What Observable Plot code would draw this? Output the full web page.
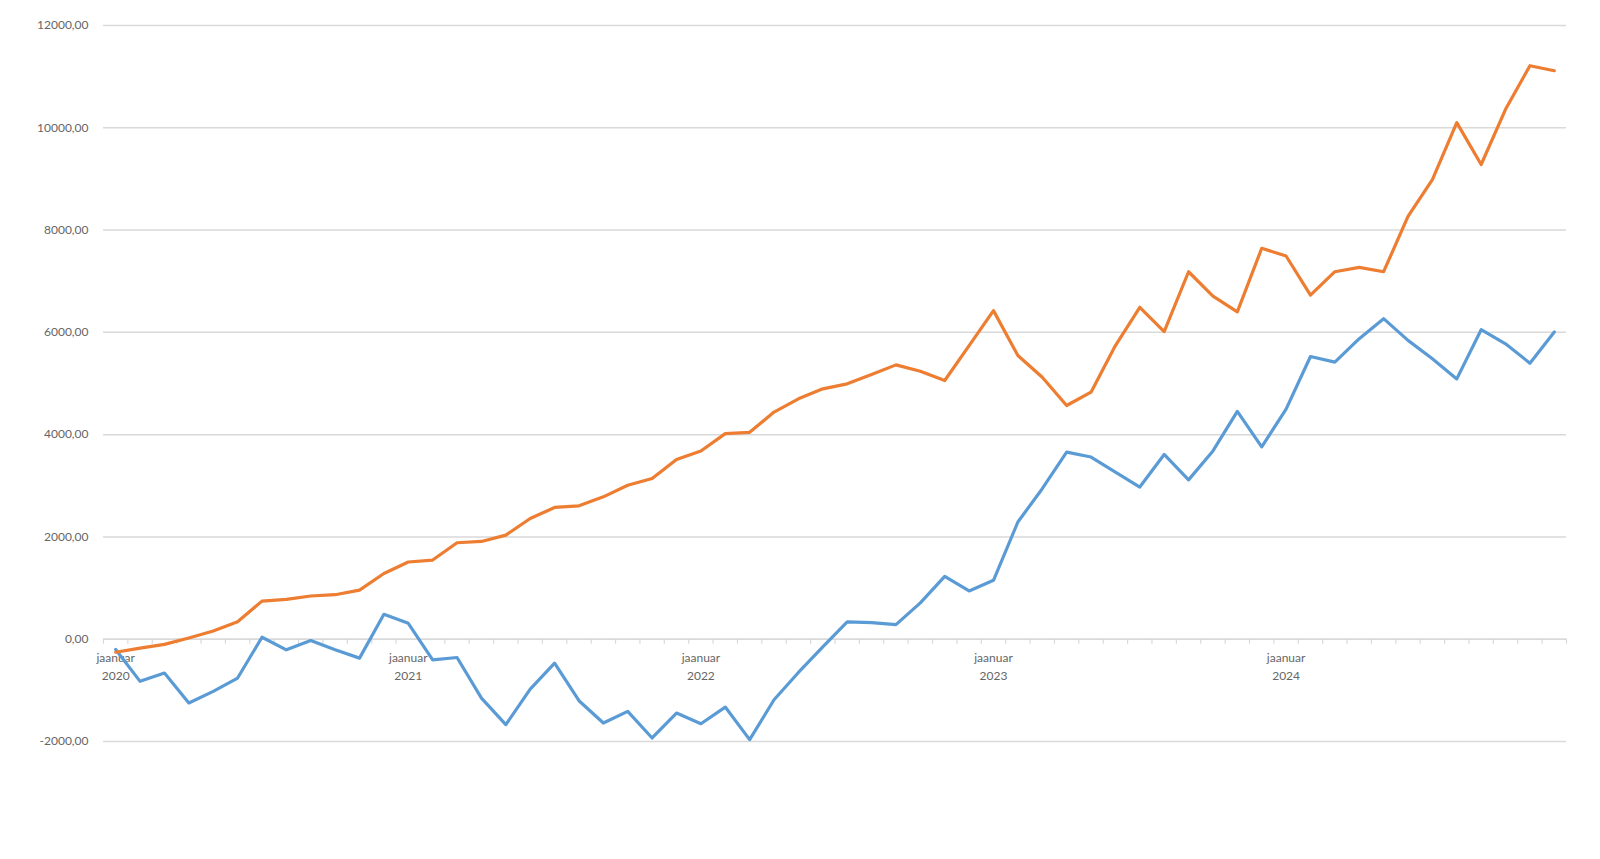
<!DOCTYPE html>
<html>
<head>
<meta charset="utf-8">
<script src="https://cdn.jsdelivr.net/npm/d3@7"></script>
<script src="https://cdn.jsdelivr.net/npm/@observablehq/plot@0.6"></script>
<style>
  html, body { margin: 0; padding: 0; background: #ffffff; }
  #chart { width: 1600px; height: 859px; }
</style>
</head>
<body>
<div id="chart"></div>
<script>
const months = [
  "2020-01","2020-02","2020-03","2020-04","2020-05","2020-06","2020-07","2020-08","2020-09","2020-10","2020-11","2020-12",
  "2021-01","2021-02","2021-03","2021-04","2021-05","2021-06","2021-07","2021-08","2021-09","2021-10","2021-11","2021-12",
  "2022-01","2022-02","2022-03","2022-04","2022-05","2022-06","2022-07","2022-08","2022-09","2022-10","2022-11","2022-12",
  "2023-01","2023-02","2023-03","2023-04","2023-05","2023-06","2023-07","2023-08","2023-09","2023-10","2023-11","2023-12",
  "2024-01","2024-02","2024-03","2024-04","2024-05","2024-06","2024-07","2024-08","2024-09","2024-10","2024-11","2024-12"
];
const orangeValues = [
  -255, -175, -100, 25, 160, 340, 745, 780, 845, 870, 960, 1285,
  1510, 1548, 1886, 1912, 2036, 2361, 2576, 2608, 2784, 3011, 3141, 3512,
  3681, 4019, 4045, 4442, 4700, 4896, 4993, 5175, 5364, 5241, 5058, 5742,
  6425, 5547, 5123, 4570, 4830, 5742, 6490, 6015, 7185, 6707, 6400, 7644,
  7493, 6727, 7186, 7271, 7186, 8266, 8987, 10100, 9282, 10362, 11214, 11116
];
const blueValues = [
  -200, -824, -662, -1246, -1019, -759, 39, -208, -26, -208, -370, 487,
  311, -403, -358, -1151, -1671, -976, -468, -1203, -1639, -1411, -1931, -1444,
  -1652, -1327, -1964, -1184, -650, -150, 339, 326, 286, 710, 1230, 944,
  1152, 2292, 2943, 3659, 3562, 3268, 2975, 3613, 3115, 3681, 4454, 3760,
  4500, 5528, 5417, 5876, 6268, 5843, 5483, 5090, 6052, 5777, 5397, 6007
];
const yTicks = [-2000, 0, 2000, 4000, 6000, 8000, 10000, 12000];
const monthLabel = "jaanuar";
const yearLabels = ["2020", "2021", "2022", "2023", "2024"];

const orangeData = months.map((m, i) => ({i, v: orangeValues[i]}));
const blueData = months.map((m, i) => ({i, v: blueValues[i]}));
const boundaries = d3.range(months.length + 1).map(i => i - 0.5);
const janData = yearLabels.map(y => ({i: months.indexOf(y + "-01"), label: monthLabel + "\n" + y}));

const fmt = d => d.toFixed(2).replace(".", ",");

const chart = Plot.plot({
  width: 1600,
  height: 859,
  marginLeft: 103,
  marginRight: 34,
  marginTop: 25,
  marginBottom: 118,
  style: {fontFamily: "Lato, 'Open Sans', sans-serif", fontSize: "12px", color: "#666", background: "#fff"},
  x: {domain: [-0.5, months.length - 0.5], axis: null},
  y: {domain: [-2000, 12000], ticks: yTicks, axis: null},
  marks: [
    Plot.gridY(yTicks, {stroke: "#d9d9d9", strokeOpacity: 1, strokeWidth: 1.5}),
    Plot.axisY(yTicks, {tickSize: 0, tickPadding: 15, tickFormat: fmt, fill: "#666", fontSize: 12, label: null}),
    Plot.ruleY([0], {stroke: "#d9d9d9", strokeWidth: 1.5}),
    Plot.ruleX(boundaries, {x: d => d, y1: 0, y2: 0, insetBottom: -5, stroke: "#d9d9d9", strokeWidth: 1.2}),
    Plot.text(janData, {x: "i", y: 0, text: "label", dy: 10, lineAnchor: "top", lineHeight: 1.5, fill: "#666", fontSize: 12}),
    Plot.line(blueData, {x: "i", y: "v", stroke: "#5B9BD5", strokeWidth: 3.2, strokeLinejoin: "round"}),
    Plot.line(orangeData, {x: "i", y: "v", stroke: "#ED7D31", strokeWidth: 3.2, strokeLinejoin: "round"})
  ]
});
document.getElementById("chart").appendChild(chart);
</script>
</body>
</html>
